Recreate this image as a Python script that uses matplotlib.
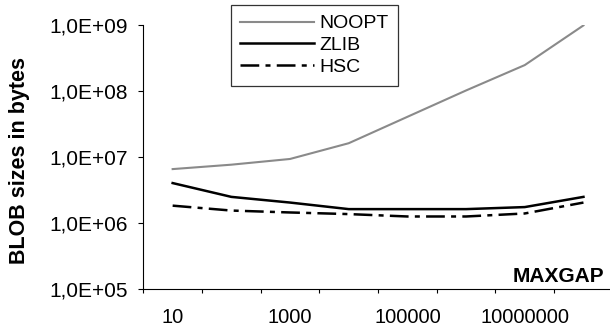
import numpy as np
import matplotlib
matplotlib.use("Agg")
import matplotlib.pyplot as plt
from matplotlib.ticker import FixedLocator, FixedFormatter, NullFormatter

plt.rcParams['font.family'] = ['Liberation Sans', 'DejaVu Sans']

# MAXGAP categories (every other one is labelled)
maxgap = ["10", "100", "1000", "10000", "100000", "1000000", "10000000", "100000000"]
shown_labels = ["10", "1000", "100000", "10000000"]

# BLOB sizes in bytes
noopt = [6.6e6, 7.7e6, 9.4e6, 1.63e7, 4.1e7, 1.03e8, 2.5e8, 1.0e9]
zlib = [4.05e6, 2.5e6, 2.05e6, 1.63e6, 1.63e6, 1.63e6, 1.75e6, 2.5e6]
hsc = [1.84e6, 1.55e6, 1.45e6, 1.37e6, 1.26e6, 1.26e6, 1.4e6, 2.05e6]

ytick_values = [1e5, 1e6, 1e7, 1e8, 1e9]
ytick_labels = ["1,0E+05", "1,0E+06", "1,0E+07", "1,0E+08", "1,0E+09"]

W, H = 610, 334
fig = plt.figure(figsize=(W / 100, H / 100), dpi=100)
ax = fig.add_axes([143.3 / W, 45 / H, (612.8 - 143.3) / W, (289 - 25.4) / H])

x = np.arange(len(maxgap))
ax.plot(x, noopt, color='#8a8a8a', lw=1.5, label='NOOPT')
ax.plot(x, zlib, color='black', lw=1.8, label='ZLIB')
ax.plot(x, hsc, color='black', lw=1.8, linestyle=(0, (7.5, 2.5, 2, 2.5)), label='HSC')

ax.set_yscale('log')
ax.set_ylim(1e5, 1e9)
ax.set_xlim(-0.5, len(maxgap) - 0.5)

ax.yaxis.set_major_locator(FixedLocator(ytick_values))
ax.yaxis.set_major_formatter(FixedFormatter(ytick_labels))
ax.yaxis.set_minor_locator(FixedLocator([]))
ax.tick_params(axis='y', which='major', direction='out', length=3.6, width=0.8,
               pad=7.5, labelsize=15)

ax.xaxis.set_major_locator(FixedLocator(x[::2]))
ax.xaxis.set_major_formatter(FixedFormatter(shown_labels))
ax.xaxis.set_minor_locator(FixedLocator(np.arange(len(maxgap) + 1) - 0.5))
ax.xaxis.set_minor_formatter(NullFormatter())
ax.tick_params(axis='x', which='major', length=0, pad=14, labelsize=14.5)
ax.tick_params(axis='x', which='minor', direction='out', length=3.2, width=0.8)

for side in ['top', 'right']:
    ax.spines[side].set_visible(False)
for side in ['left', 'bottom']:
    ax.spines[side].set_linewidth(0.8)
ax.set_facecolor('none')

fig.text(20 / W, 1 - 160 / H, "BLOB sizes in bytes", rotation=90, fontsize=15.5,
         fontweight='bold', ha='center', va='center')
fig.text(558 / W, 1 - 276.7 / H, "MAXGAP", fontsize=15, fontweight='bold',
         ha='center', va='center')

leg = fig.legend(loc='upper left', bbox_to_anchor=(230.6 / W, 1 - 5 / H),
                 borderaxespad=0, fontsize=14, frameon=True, fancybox=False,
                 handlelength=3.8, handletextpad=0.25, labelspacing=0.22,
                 borderpad=0.5)
leg.get_frame().set_edgecolor('black')
leg.get_frame().set_linewidth(0.9)

fig.savefig("out.png", dpi=100)
